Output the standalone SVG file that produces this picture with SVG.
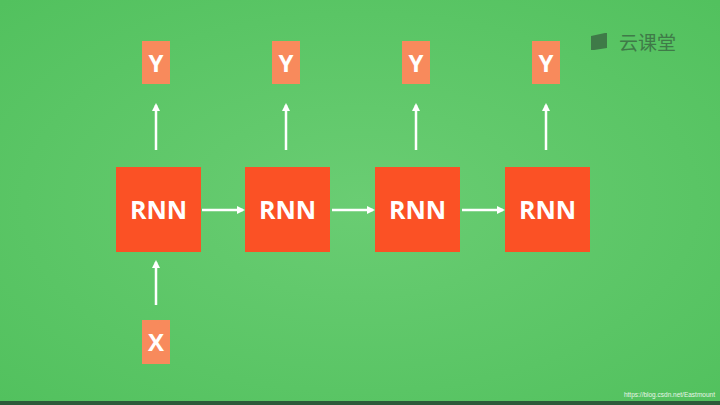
<svg xmlns="http://www.w3.org/2000/svg" width="720" height="405" viewBox="0 0 720 405">
<defs>
<radialGradient id="bg" cx="50%" cy="50%" r="70%"><stop offset="0" stop-color="#6acd73"/><stop offset="1" stop-color="#52c15e"/></radialGradient>
<marker id="ah" markerWidth="8" markerHeight="8" refX="6" refY="4" orient="auto" markerUnits="userSpaceOnUse"><path d="M0,0 L8,4 L0,8 Z" fill="#fff"/></marker>
<style>
.rnn{fill:#fb5125}
.io{fill:#f88a5c}
.t{font-family:"Open Sans","Liberation Sans",sans-serif;font-weight:bold;fill:#fff;text-anchor:middle}
.c{stroke:#fff;stroke-width:2.5;fill:none;marker-end:url(#ah)}
</style>
</defs>
<rect width="720" height="405" fill="url(#bg)"/>
<rect y="401" width="720" height="4" fill="#2c5a3a"/>
<g id="logo">
<path d="M591,36 L605,33 L607,33 L607,48 L594,50 L591,50 Z" fill="#3f7a48"/>
<text x="619" y="50" font-family="'Noto Sans CJK SC',sans-serif" font-size="19" fill="#3f7a48">云课堂</text>
</g>
<text x="715" y="397" text-anchor="end" font-family="'Liberation Sans',sans-serif" font-size="6.5" fill="#e8f5e8">https://blog.csdn.net/Eastmount</text>
<g id="connectors">
<line class="c" x1="156" y1="150" x2="156" y2="105"/>
<line class="c" x1="286" y1="150" x2="286" y2="105"/>
<line class="c" x1="416" y1="150" x2="416" y2="105"/>
<line class="c" x1="546" y1="150" x2="546" y2="105"/>
<line class="c" x1="156" y1="305" x2="156" y2="262"/>
<line class="c" x1="202" y1="210" x2="243" y2="210"/>
<line class="c" x1="332" y1="210" x2="373" y2="210"/>
<line class="c" x1="462" y1="210" x2="503" y2="210"/>
</g>
<g id="rnn1"><rect class="rnn" x="116" y="167" width="85" height="85"/><text class="t" x="158.5" y="219" font-size="25">RNN</text></g>
<g id="rnn2"><rect class="rnn" x="245" y="167" width="85" height="85"/><text class="t" x="287.5" y="219" font-size="25">RNN</text></g>
<g id="rnn3"><rect class="rnn" x="375" y="167" width="85" height="85"/><text class="t" x="417.5" y="219" font-size="25">RNN</text></g>
<g id="rnn4"><rect class="rnn" x="505" y="167" width="85" height="85"/><text class="t" x="547.5" y="219" font-size="25">RNN</text></g>
<g id="y1"><rect class="io" x="142" y="41" width="28" height="43"/><text class="t" x="156" y="72" font-size="24">Y</text></g>
<g id="y2"><rect class="io" x="272" y="41" width="28" height="43"/><text class="t" x="286" y="72" font-size="24">Y</text></g>
<g id="y3"><rect class="io" x="402" y="41" width="28" height="43"/><text class="t" x="416" y="72" font-size="24">Y</text></g>
<g id="y4"><rect class="io" x="532" y="41" width="28" height="43"/><text class="t" x="546" y="72" font-size="24">Y</text></g>
<g id="x1"><rect class="io" x="142" y="320" width="28" height="44"/><text class="t" x="156" y="351" font-size="24">X</text></g>
</svg>
